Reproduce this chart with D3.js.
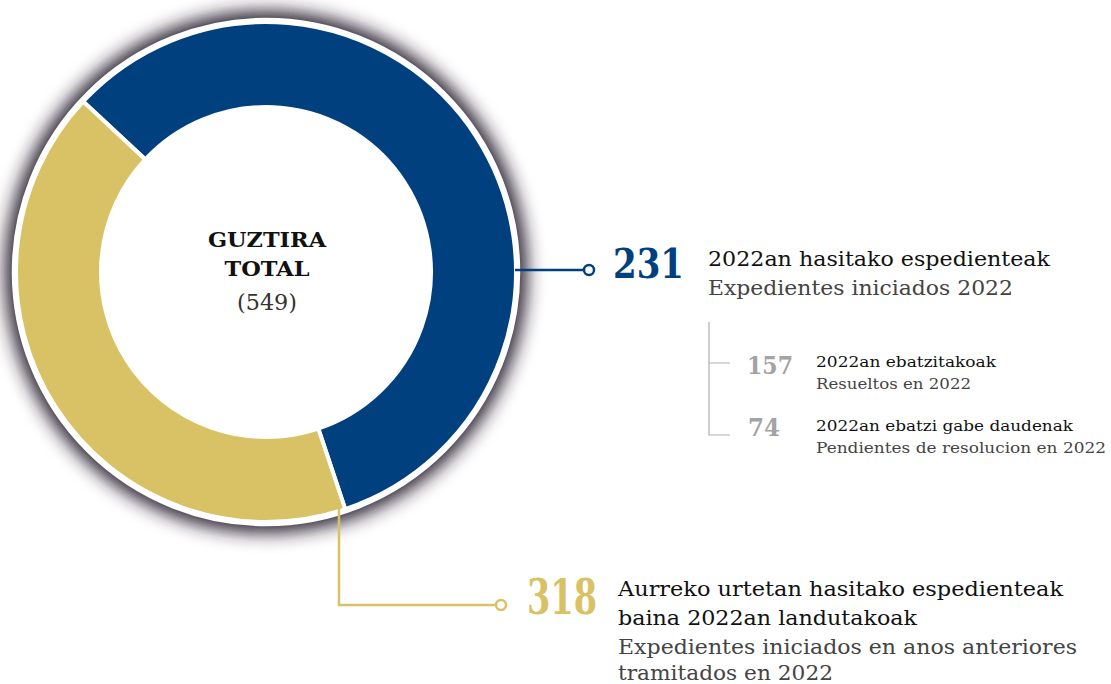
<!DOCTYPE html>
<html>
<head>
<meta charset="utf-8">
<script src="https://cdn.jsdelivr.net/npm/d3@7"></script>
<style>
  body { margin: 0; background: #fff; }
  text { font-family: "DejaVu Serif", "Liberation Serif", serif; }
</style>
</head>
<body>
<div id="chart"></div>
<script>
// data
var categories = ["2022an hasitako espedienteak", "Aurreko urtetan hasitako espedienteak baina 2022an landutakoak"];
var values = [231, 318];
var total = 549;
var subCategories = ["2022an ebatzitakoak", "2022an ebatzi gabe daudenak"];
var subValues = [157, 74];

// ring as drawn in the source: blue arc holds the larger share
var ringValues = [318, 231];
var ringColors = ["#00407f", "#d9c266"];

var centerLabels = ["GUZTIRA", "TOTAL", "(" + total + ")"];
var blueLabels = ["2022an hasitako espedienteak", "Expedientes iniciados 2022"];
var goldLabels = ["Aurreko urtetan  hasitako espedienteak", "baina 2022an landutakoak",
                  "Expedientes iniciados en anos anteriores", "tramitados en 2022"];
var subLabels = [["2022an ebatzitakoak", "Resueltos en 2022"],
                 ["2022an ebatzi gabe daudenak", "Pendientes de resolucion en 2022"]];

var width = 1111, height = 684;
var cx = 266, cy = 272, rOuter = 250, rInner = 165;

var svg = d3.select("#chart").append("svg")
    .attr("width", width)
    .attr("height", height);

// shadow halo
var defs = svg.append("defs");
defs.append("filter").attr("id", "halo")
    .attr("x", "-20%").attr("y", "-20%").attr("width", "140%").attr("height", "140%")
  .append("feGaussianBlur").attr("stdDeviation", 9);

var g = svg.append("g").attr("transform", "translate(" + cx + "," + cy + ")");

g.append("circle")
    .attr("r", rOuter + 11)
    .attr("fill", "#2c2331")
    .attr("filter", "url(#halo)");

// white hole
g.append("circle")
    .attr("r", rInner)
    .attr("fill", "#fff");

var startA = -47 * Math.PI / 180;
var pie = d3.pie().sort(null).startAngle(startA).endAngle(startA + 2 * Math.PI);
var arc = d3.arc().innerRadius(rInner).outerRadius(rOuter);

g.selectAll("path.slice")
    .data(pie(ringValues))
    .enter().append("path")
    .attr("class", "slice")
    .attr("d", arc)
    .attr("fill", function(d, i) { return ringColors[i]; })
    .attr("stroke", "#fff")
    .attr("stroke-width", 4);

// white rim
g.append("circle")
    .attr("r", rOuter + 2)
    .attr("fill", "none")
    .attr("stroke", "#fff")
    .attr("stroke-width", 4.5);

// center text
var center = [
  {t: centerLabels[0], y: 247, size: 21, w: 118, weight: "bold", fill: "#111"},
  {t: centerLabels[1], y: 276, size: 21, w: 85, weight: "bold", fill: "#111"},
  {t: centerLabels[2], y: 310, size: 22, w: 60, weight: "normal", fill: "#333"}
];
center.forEach(function(c) {
  svg.append("text")
      .attr("x", cx + 1).attr("y", c.y)
      .attr("text-anchor", "middle")
      .attr("font-size", c.size)
      .attr("font-weight", c.weight)
      .attr("fill", c.fill)
      .attr("textLength", c.w)
      .attr("lengthAdjust", "spacingAndGlyphs")
      .text(c.t);
});

function label(x, y, str, size, w, weight, fill) {
  svg.append("text")
      .attr("x", x).attr("y", y)
      .attr("font-size", size)
      .attr("font-weight", weight)
      .attr("fill", fill)
      .attr("textLength", w)
      .attr("lengthAdjust", "spacingAndGlyphs")
      .text(str);
}

// blue leader
svg.append("line")
    .attr("x1", 515).attr("y1", 270).attr("x2", 584).attr("y2", 270)
    .attr("stroke", ringColors[0]).attr("stroke-width", 2.5);
svg.append("circle")
    .attr("cx", 589).attr("cy", 270).attr("r", 5)
    .attr("fill", "#fff").attr("stroke", ringColors[0]).attr("stroke-width", 2.5);

label(613, 278, values[0], 41, 71, "bold", ringColors[0]);
label(708, 266, blueLabels[0], 21, 342, "normal", "#111");
label(708, 295, blueLabels[1], 21, 305, "normal", "#444");

// grey bracket for the breakdown
var subY = [363, 435];
svg.append("path")
    .attr("d", "M709,322V" + subY[1] + "H730M709," + subY[0] + "H730")
    .attr("fill", "none")
    .attr("stroke", "#b0b0b0")
    .attr("stroke-width", 1.2);

var subNumX = [747, 748], subNumW = [46, 32], subNumBase = [374, 436];
var subTextBase = [367, 431];
var subW = [[180, 155], [257, 290]];
subValues.forEach(function(v, i) {
  label(subNumX[i], subNumBase[i], v, 24, subNumW[i], "bold", "#a3a3a3");
  label(816, subTextBase[i], subLabels[i][0], 15, subW[i][0], "normal", "#111");
  label(816, subTextBase[i] + 22, subLabels[i][1], 15, subW[i][1], "normal", "#444");
});

// gold leader
svg.append("path")
    .attr("d", "M339,508V605H496")
    .attr("fill", "none")
    .attr("stroke", ringColors[1]).attr("stroke-width", 2.5);
svg.append("circle")
    .attr("cx", 501).attr("cy", 605).attr("r", 5)
    .attr("fill", "#fff").attr("stroke", ringColors[1]).attr("stroke-width", 2.5);

label(527, 614, values[1], 49, 70, "bold", ringColors[1]);
var goldBase = [596, 625, 654, 680];
var goldW = [445, 299, 459, 215];
var goldFill = ["#111", "#111", "#444", "#444"];
goldLabels.forEach(function(t, i) {
  label(618, goldBase[i], t, 21, goldW[i], "normal", goldFill[i]);
});
</script>
</body>
</html>
